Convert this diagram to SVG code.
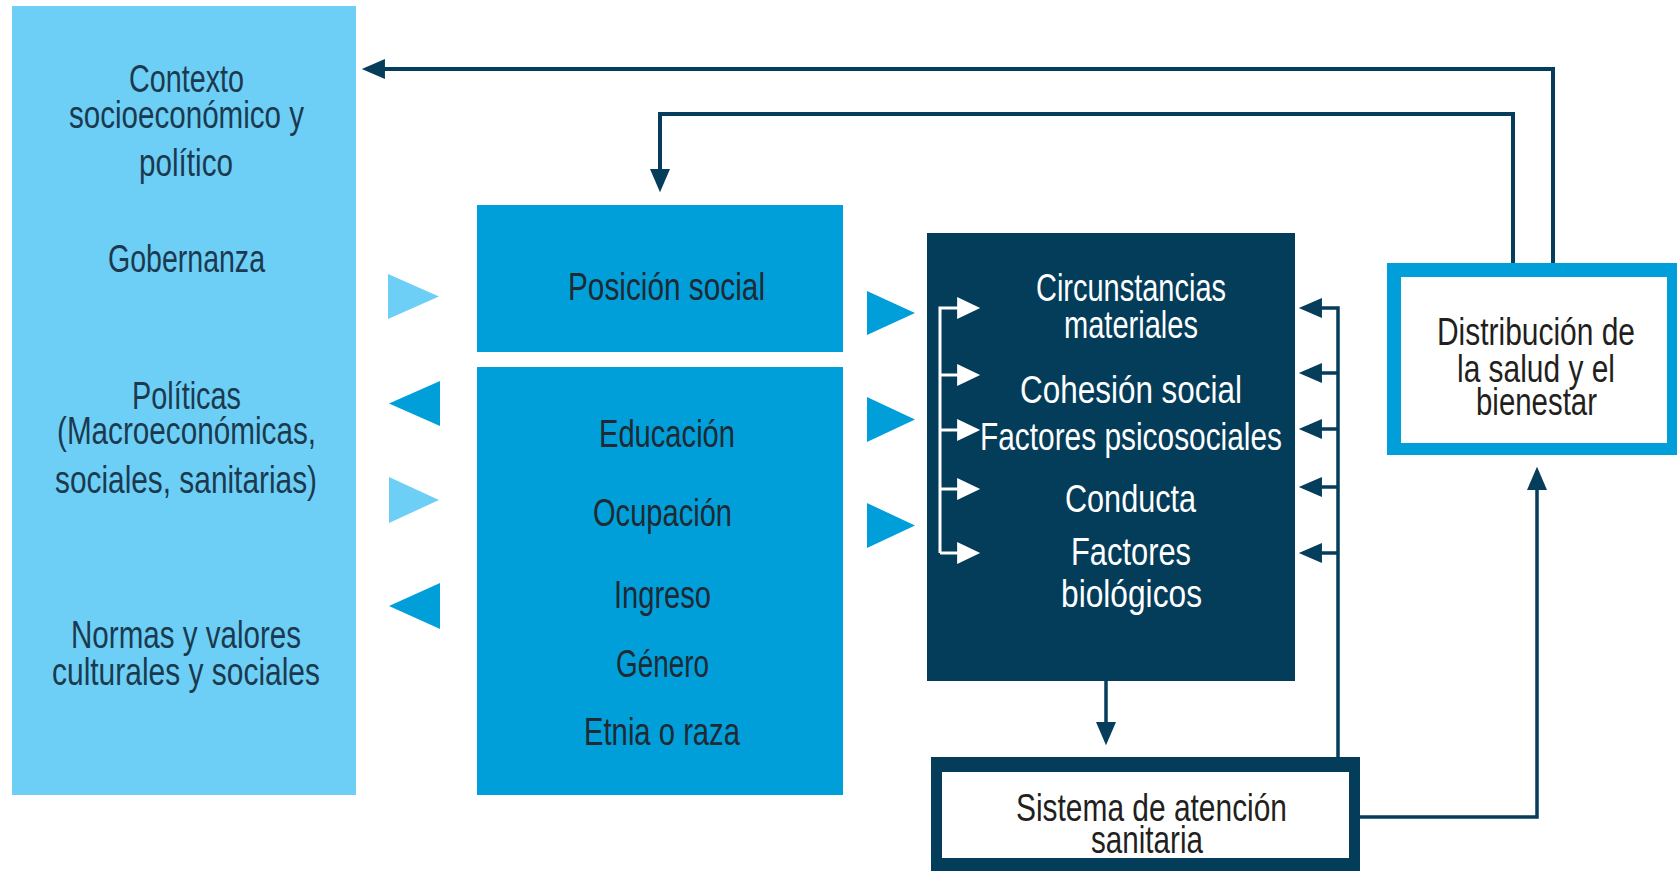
<svg xmlns="http://www.w3.org/2000/svg" width="1677" height="871" viewBox="0 0 1677 871">
<defs>
<style>
text{font-family:"Liberation Sans",Arial,sans-serif;font-size:38px;}
.lt{fill:#1b3a4f;}
.md{fill:#1f2a33;}
.wt{fill:#ffffff;}
.gy{fill:#231f20;}
.ln{fill:none;stroke:#053d5b;stroke-width:3.5;}
.wl{fill:none;stroke:#ffffff;stroke-width:3;}
.tl{fill:#6dcff6;}
.tm{fill:#009fda;}
</style>
<marker id="ah" markerUnits="userSpaceOnUse" markerWidth="24" markerHeight="20" viewBox="0 0 22 19" refX="18" refY="9.5" orient="auto">
<path d="M0,0 L22,9.5 L0,19 z" fill="#053d5b"/>
</marker>
<marker id="aw" markerUnits="userSpaceOnUse" markerWidth="24" markerHeight="22" viewBox="0 0 22 21" refX="18" refY="10.5" orient="auto">
<path d="M0,0 L22,10.5 L0,21 z" fill="#ffffff"/>
</marker>
</defs>
<rect width="1677" height="871" fill="#ffffff"/>

<g id="contexto">
<rect x="12" y="6" width="344" height="789" fill="#6dcff6"/>
<text class="lt" x="129" y="92" textLength="115" lengthAdjust="spacingAndGlyphs">Contexto</text>
<text class="lt" x="69" y="128" textLength="235" lengthAdjust="spacingAndGlyphs">socioeconómico y</text>
<text class="lt" x="139" y="176" textLength="94" lengthAdjust="spacingAndGlyphs">político</text>
<text class="lt" x="108" y="272" textLength="157" lengthAdjust="spacingAndGlyphs">Gobernanza</text>
<text class="lt" x="132" y="409" textLength="109" lengthAdjust="spacingAndGlyphs">Políticas</text>
<text class="lt" x="57" y="444" textLength="259" lengthAdjust="spacingAndGlyphs">(Macroeconómicas,</text>
<text class="lt" x="55" y="493" textLength="262" lengthAdjust="spacingAndGlyphs">sociales, sanitarias)</text>
<text class="lt" x="71" y="648" textLength="230" lengthAdjust="spacingAndGlyphs">Normas y valores</text>
<text class="lt" x="52" y="685" textLength="268" lengthAdjust="spacingAndGlyphs">culturales y sociales</text>
</g>

<g id="posicion-social">
<rect x="477" y="205" width="366" height="147" fill="#009fda"/>
<text class="md" x="568" y="300" textLength="197" lengthAdjust="spacingAndGlyphs">Posición social</text>
</g>

<g id="estratificadores">
<rect x="477" y="367" width="366" height="428" fill="#009fda"/>
<text class="md" x="599" y="447" textLength="136" lengthAdjust="spacingAndGlyphs">Educación</text>
<text class="md" x="593" y="526" textLength="139" lengthAdjust="spacingAndGlyphs">Ocupación</text>
<text class="md" x="614" y="608" textLength="97" lengthAdjust="spacingAndGlyphs">Ingreso</text>
<text class="md" x="616" y="677" textLength="93" lengthAdjust="spacingAndGlyphs">Género</text>
<text class="md" x="584" y="745" textLength="156" lengthAdjust="spacingAndGlyphs">Etnia o raza</text>
</g>

<g id="intermedios">
<rect x="927" y="233" width="368" height="448" fill="#033d5a"/>
<text class="wt" x="1036" y="301" textLength="190" lengthAdjust="spacingAndGlyphs">Circunstancias</text>
<text class="wt" x="1064" y="338" textLength="134" lengthAdjust="spacingAndGlyphs">materiales</text>
<text class="wt" x="1020" y="403" textLength="222" lengthAdjust="spacingAndGlyphs">Cohesión social</text>
<text class="wt" x="980" y="450" textLength="302" lengthAdjust="spacingAndGlyphs">Factores psicosociales</text>
<text class="wt" x="1065" y="512" textLength="131" lengthAdjust="spacingAndGlyphs">Conducta</text>
<text class="wt" x="1071" y="565" textLength="120" lengthAdjust="spacingAndGlyphs">Factores</text>
<text class="wt" x="1061" y="607" textLength="141" lengthAdjust="spacingAndGlyphs">biológicos</text>
</g>

<g id="sistema">
<rect x="931" y="757" width="429" height="114" fill="#033d5a"/>
<rect x="942" y="772" width="407" height="86" fill="#ffffff"/>
<text class="gy" x="1016" y="821" textLength="271" lengthAdjust="spacingAndGlyphs">Sistema de atención</text>
<text class="gy" x="1091" y="853" textLength="112" lengthAdjust="spacingAndGlyphs">sanitaria</text>
</g>

<g id="distribucion">
<rect x="1387" y="263" width="290" height="192" fill="#009fda"/>
<rect x="1401" y="277" width="266" height="166" fill="#ffffff"/>
<text class="gy" x="1437" y="345" textLength="198" lengthAdjust="spacingAndGlyphs">Distribución de</text>
<text class="gy" x="1457" y="382" textLength="158" lengthAdjust="spacingAndGlyphs">la salud y el</text>
<text class="gy" x="1476" y="415" textLength="121" lengthAdjust="spacingAndGlyphs">bienestar</text>
</g>

<g id="connectors">
<polygon class="tl" points="388,274 439,296.5 388,319"/>
<polygon class="tm" points="440,381 389,403.5 440,426"/>
<polygon class="tl" points="389,477 439,500 389,523"/>
<polygon class="tm" points="440,583 389,606 440,629"/>
<polygon class="tm" points="867,291 915,313 867,335"/>
<polygon class="tm" points="867,397 915,419.5 867,442"/>
<polygon class="tm" points="867,503 915,525.5 867,548"/>

<path class="ln" style="stroke-width:4" d="M1553,263 V69 H366" marker-end="url(#ah)"/>
<path class="ln" style="stroke-width:4" d="M1513,263 V114 H660 V188" marker-end="url(#ah)"/>
<path class="ln" d="M1106,681 V741" marker-end="url(#ah)"/>
<path class="ln" d="M1360,817 H1537 V471" marker-end="url(#ah)"/>
<path class="ln" d="M1338,757 V308 H1303" marker-end="url(#ah)"/>
<path class="ln" d="M1338,373 H1303" marker-end="url(#ah)"/>
<path class="ln" d="M1338,429 H1303" marker-end="url(#ah)"/>
<path class="ln" d="M1338,487 H1303" marker-end="url(#ah)"/>
<path class="ln" d="M1338,553 H1303" marker-end="url(#ah)"/>

<path class="wl" d="M940,553 V308 H976" marker-end="url(#aw)"/>
<path class="wl" d="M940,375 H976" marker-end="url(#aw)"/>
<path class="wl" d="M940,430 H976" marker-end="url(#aw)"/>
<path class="wl" d="M940,489 H976" marker-end="url(#aw)"/>
<path class="wl" d="M940,553 H976" marker-end="url(#aw)"/>
</g>
</svg>
